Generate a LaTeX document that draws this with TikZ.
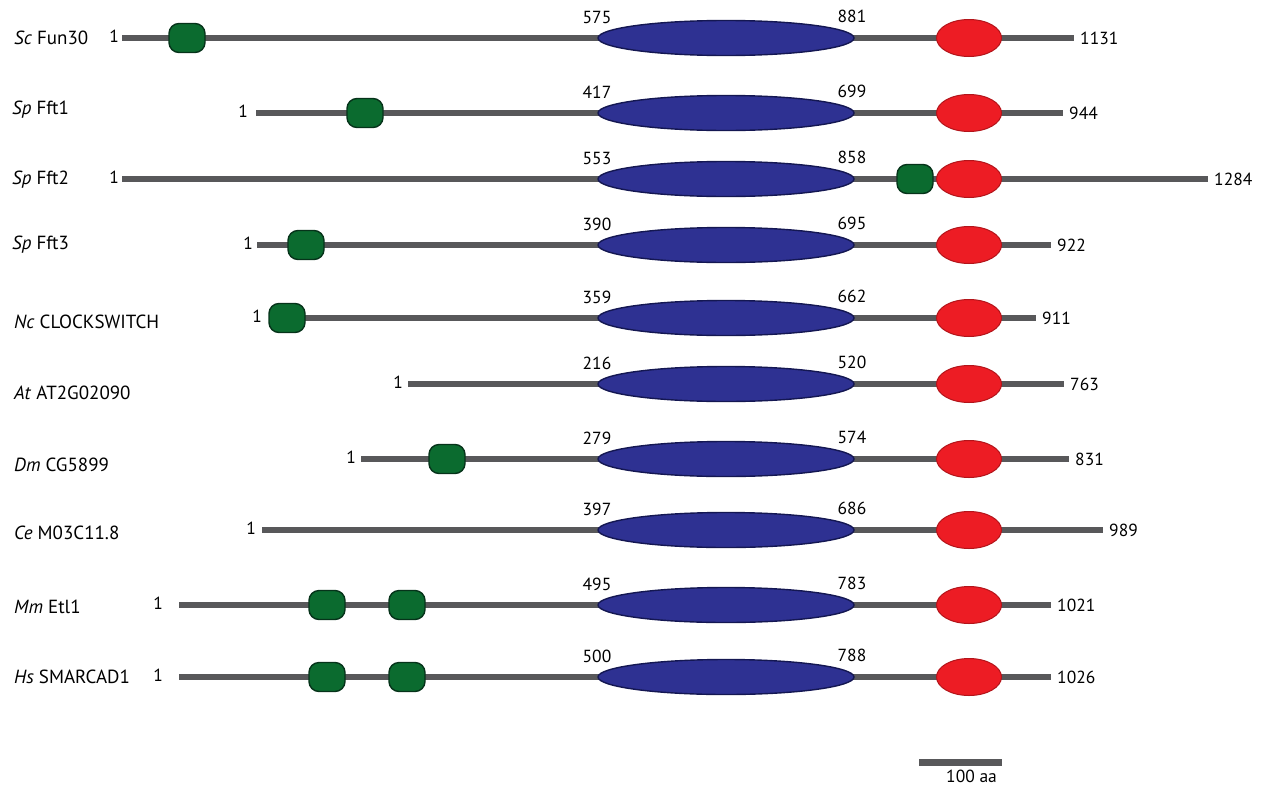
\documentclass[tikz,border=0pt]{standalone}
\usepackage{fontspec}
\setmainfont{PT Sans}
\usetikzlibrary{shapes.geometric}
\definecolor{barcol}{HTML}{58585A}
\definecolor{bluefill}{HTML}{2E3192}
\definecolor{blueedge}{HTML}{141752}
\definecolor{redfill}{HTML}{ED1C24}
\definecolor{rededge}{HTML}{B3141A}
\definecolor{greenfill}{HTML}{0B6B2F}
\definecolor{greenedge}{HTML}{06331A}
\tikzset{
  protbar/.style={line width=6pt, draw=barcol},
  helicase/.style={ellipse, fill=bluefill, draw=blueedge, line width=1.4pt, minimum width=256pt, minimum height=35pt, inner sep=0pt},
  cterm/.style={ellipse, fill=redfill, draw=rededge, line width=1pt, minimum width=65pt, minimum height=37pt, inner sep=0pt},
  cuedom/.style={rectangle, rounded corners=10pt, fill=greenfill, draw=greenedge, line width=1.4pt, minimum width=36pt, minimum height=29pt, inner sep=0pt},
  numlbl/.style={font=\fontsize{17.5}{19}\selectfont, inner sep=0pt},
  orglbl/.style={font=\fontsize{19}{21}\selectfont, inner sep=0pt, anchor=west},
}
\begin{document}
\begin{tikzpicture}[x=1pt,y=-1pt]
\useasboundingbox (0,0) rectangle (1273,787);
% rows: index / y / bar start / bar end / x of "1" (east) / left num / right num / end num
\foreach \i/\y/\s/\e/\n/\a/\b/\c in {
  1/38/122/1074/119/575/881/1131,
  2/113/256/1063/248/417/699/944,
  3/179/122/1208/119/553/858/1284,
  4/245/257/1051/253/390/695/922,
  5/318/287/1036/262/359/662/911,
  6/384/408/1064/403/216/520/763,
  7/459/361/1069/356/279/574/831,
  8/530/262/1103/256/397/686/989,
  9/605/179/1051/163/495/783/1021,
  10/677/179/1051/163/500/788/1026}{
  \coordinate (s\i) at (\s,\y);
  \coordinate (e\i) at (\e,\y);
  \draw[protbar] (s\i) -- (e\i);
  \node[helicase] (blue\i) at (726,\y) {};
  \node[cterm] (red\i) at (969,\y) {};
  \node[numlbl, anchor=east] (one\i) at (\n,\y-2) {1};
  \node[numlbl] (na\i) at (597,\y-21) {\a};
  \node[numlbl] (nb\i) at (852,\y-22) {\b};
  \node[numlbl, anchor=west] (nc\i) at (\e+6,\y) {\c};
}
% green domains
\node[cuedom] (g1) at (187,38) {};
\node[cuedom] (g2) at (365,113) {};
\node[cuedom] (g3) at (915,179) {};
\node[cuedom] (g4) at (306,245) {};
\node[cuedom] (g5) at (287,318) {};
\node[cuedom] (g7) at (447,459) {};
\node[cuedom] (g9a) at (327,605) {};
\node[cuedom] (g9b) at (407,605) {};
\node[cuedom] (g10a) at (327,677) {};
\node[cuedom] (g10b) at (407,677) {};
% names
\node[orglbl] (l1) at (14,38) {\textit{Sc} Fun30};
\node[orglbl] (l2) at (12,110) {\textit{Sp} Fft1};
\node[orglbl] (l3) at (12,180) {\textit{Sp} Fft2};
\node[orglbl] (l4) at (12,245) {\textit{Sp} Fft3};
\node[orglbl] (l5) at (14,322) {\textit{Nc} CLOCKSWITCH};
\node[orglbl] (l6) at (14,393) {\textit{At} AT2G02090};
\node[orglbl] (l7) at (14,465) {\textit{Dm} CG5899};
\node[orglbl] (l8) at (14,533) {\textit{Ce} M03C11.8};
\node[orglbl] (l9) at (14,607) {\textit{Mm} Etl1};
\node[orglbl] (l10) at (14,677) {\textit{Hs} SMARCAD1};
% scale bar
\coordinate (sbA) at (919,762);
\coordinate (sbB) at (1002,762);
\draw[line width=7pt, draw=barcol] (sbA) -- (sbB);
\node[numlbl, anchor=west] (sbl) at (946,776) {100 aa};
\end{tikzpicture}
\end{document}
